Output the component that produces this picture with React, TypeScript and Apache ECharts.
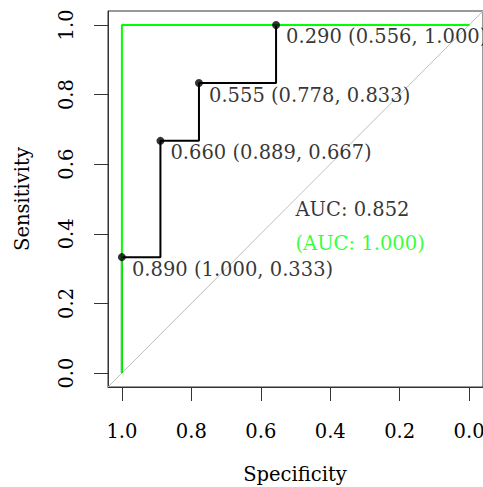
import React, { useEffect, useRef } from "react";
import * as echarts from "echarts";

const tickValues = [0, 0.2, 0.4, 0.6, 0.8, 1.0];
const rocSpec = [1.0, 1.0, 0.889, 0.889, 0.778, 0.778, 0.556, 0.556, 0.0];
const rocSens = [0.0, 0.333, 0.333, 0.667, 0.667, 0.833, 0.833, 1.0, 1.0];
const perfectSpec = [1.0, 1.0, 0.0];
const perfectSens = [0.0, 1.0, 1.0];
const thresholds = [0.89, 0.66, 0.555, 0.29];
const thrSpec = [1.0, 0.889, 0.778, 0.556];
const thrSens = [0.333, 0.667, 0.833, 1.0];
const aucMain = 0.852;
const aucPerfect = 1.0;
const aucPos = [[0.5, 0.5], [0.5, 0.4]];
const diagSpec = [1.04, -0.04];
const diagSens = [-0.04, 1.04];

const FONT = "DejaVu Serif";
const FS = 19.5;

export default function App() {
  const ref = useRef<HTMLDivElement>(null);
  useEffect(() => {
    const chart = echarts.init(ref.current!, null, { renderer: "svg" });
    const axisCommon = {
      type: "value",
      min: -0.04,
      max: 1.04,
      splitLine: { show: false },
      axisLine: { show: true, onZero: false, lineStyle: { color: "#333", width: 1 } },
      axisTick: {
        show: true,
        inside: false,
        length: 14,
        customValues: tickValues,
        lineStyle: { color: "#333", width: 1 },
      },
    };
    chart.setOption({
      animation: false,
      backgroundColor: "#ffffff",
      grid: {
        left: 108,
        right: 0,
        top: 11,
        bottom: 100,
        show: true,
        borderColor: "#333",
        borderWidth: 1,
        containLabel: false,
        outerBoundsMode: "none",
      },
      xAxis: {
        ...axisCommon,
        inverse: true,
        axisLabel: {
          customValues: tickValues,
          formatter: (v: number) => v.toFixed(1),
          fontFamily: FONT,
          fontSize: FS,
          color: "#000",
          margin: 34,
          hideOverlap: false,
        },
      },
      yAxis: {
        ...axisCommon,
        axisLabel: {
          customValues: tickValues,
          formatter: (v: number) => v.toFixed(1),
          fontFamily: FONT,
          fontSize: FS,
          color: "#000",
          rotate: 90,
          margin: 32,
        },
      },
      graphic: [
        {
          type: "text",
          x: 22,
          y: 199,
          rotation: Math.PI / 2,
          style: {
            text: "Sensitivity",
            align: "center",
            verticalAlign: "middle",
            fontFamily: FONT,
            fontSize: FS,
            fill: "#000",
          },
        },
        {
          type: "text",
          x: 295,
          y: 474,
          style: {
            text: "Specificity",
            align: "center",
            verticalAlign: "middle",
            fontFamily: FONT,
            fontSize: FS,
            fill: "#000",
          },
        },
      ],
      series: [
        {
          type: "line",
          data: diagSpec.map((s, i) => [s, diagSens[i]]),
          symbol: "none",
          lineStyle: { color: "#BEBEBE", width: 1 },
          silent: true,
          clip: true,
          z: 1,
        },
        {
          type: "line",
          data: rocSpec.map((s, i) => [s, rocSens[i]]),
          symbol: "none",
          lineStyle: { color: "#000", width: 2 },
          z: 2,
        },
        {
          type: "line",
          data: perfectSpec.map((s, i) => [s, perfectSens[i]]),
          symbol: "none",
          lineStyle: { color: "#00FF00", width: 2 },
          z: 3,
        },
        {
          type: "scatter",
          data: thrSpec.map((s, i) => [s, thrSens[i]]),
          symbol: "circle",
          symbolSize: 8,
          itemStyle: { color: "#000" },
          z: 4,
          label: {
            show: true,
            position: [14, 6],
            align: "left",
            verticalAlign: "top",
            fontFamily: FONT,
            fontSize: FS,
            color: "#000",
            formatter: (p: any) =>
              `${thresholds[p.dataIndex].toFixed(3)} (${thrSpec[p.dataIndex].toFixed(3)}, ${thrSens[p.dataIndex].toFixed(3)})`,
          },
        },
        {
          type: "scatter",
          data: [
            { value: aucPos[0], label: { color: "#000" } },
            { value: aucPos[1], label: { color: "#00FF00" } },
          ],
          symbolSize: 0,
          z: 5,
          itemStyle: { color: "transparent" },
          label: {
            show: true,
            position: [0, 0],
            align: "left",
            verticalAlign: "top",
            fontFamily: FONT,
            fontSize: FS,
            formatter: (p: any) =>
              p.dataIndex === 0
                ? `AUC: ${aucMain.toFixed(3)}`
                : `(AUC: ${aucPerfect.toFixed(3)})`,
          },
        },
      ],
    });
    return () => chart.dispose();
  }, []);
  return (
    <div
      ref={ref}
      style={{ position: "fixed", left: 0, top: 0, width: 483, height: 487 }}
    />
  );
}
